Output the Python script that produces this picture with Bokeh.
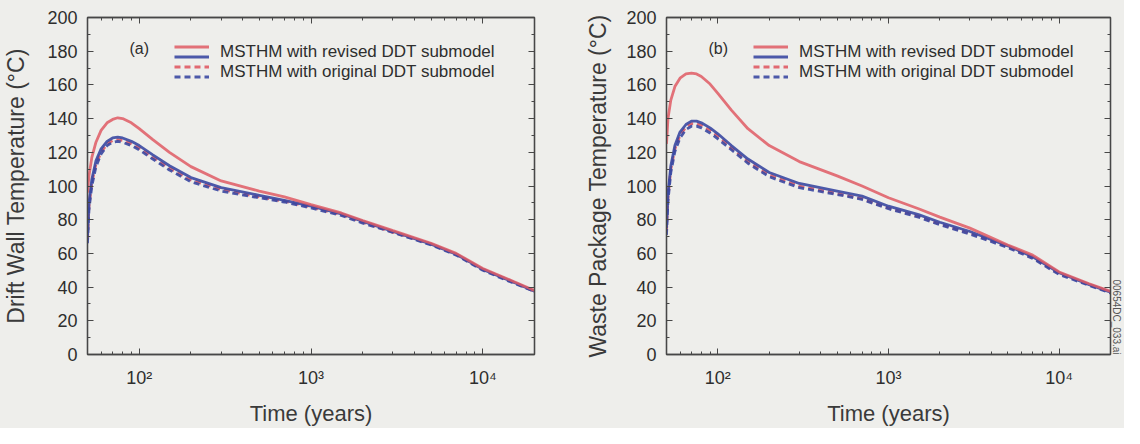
import math
from bokeh.plotting import figure
from bokeh.layouts import row
from bokeh.models import (Range1d, FixedTicker, Legend, LegendItem, Label,
                          LinearAxis, LogAxis, Title)
from bokeh.embed import file_html
from bokeh.resources import INLINE

# ---------------- data ----------------
years = [50, 51, 53, 56, 60, 65, 70, 75, 80, 90, 100, 120, 150, 200, 300,
         500, 700, 1000, 1500, 2000, 3000, 5000, 7000, 10000, 15000, 20000]

# (a) drift wall temperature (deg C)
wall_revised_red = [96, 106, 117, 126, 133, 137.5, 139.5, 140.5, 140, 137.5, 134, 127.5, 120, 111.5, 103,
                    97, 93.5, 89, 84, 79.5, 73.5, 66, 60, 51, 43.5, 38]
wall_revised_blue = [70, 90, 104, 115, 122, 126.5, 128.5, 129, 128.5, 126.5, 124, 118.5, 112, 105, 99,
                     94.5, 91.5, 88, 83.5, 79, 73, 65.5, 59.5, 50.5, 43, 37.5]
wall_original_red = [68, 88, 102, 113, 120, 125, 127, 127.5, 127, 125, 122.5, 117, 110.5, 103.5, 98,
                     93.5, 91, 87.5, 83, 78.5, 72.5, 65.5, 59.5, 50.5, 43, 37.5]
wall_original_blue = [66, 86, 100, 111.5, 119, 124, 126, 126.5, 126, 124, 121.5, 116, 109.5, 102.5, 97,
                      93, 90.5, 87, 82.5, 78, 72.5, 65, 59, 50, 42.5, 37.5]

# (b) waste package temperature (deg C)
wp_revised_red = [125, 140, 151, 159, 164, 166.5, 167, 166.5, 165, 160.5, 155, 145, 134, 124, 114.5,
                  106, 100, 93, 86.5, 81.5, 75, 65, 59, 49, 42, 37.5]
wp_revised_blue = [75, 95, 112, 124, 132, 136.5, 138.5, 138.5, 137.5, 134.5, 131, 124, 116, 108, 101.5,
                   97, 94, 88, 83, 78.5, 73, 64.5, 58, 48.5, 41.5, 37]
wp_original_red = [73, 93, 110, 122, 130, 135, 137, 137, 136, 133, 129.5, 122.5, 114.5, 106.5, 100,
                   95.5, 92.5, 87, 82, 77.5, 72, 64, 57.5, 48, 41.5, 37]
wp_original_blue = [71, 91, 108, 120.5, 128.5, 133.5, 135.5, 135.5, 134.5, 131.5, 128, 121.5, 113.5, 105.5, 99,
                    95, 92, 86.5, 81.5, 77, 71.5, 63.5, 57, 47.5, 41, 36.5]

x_major_ticks = [100, 1000, 10000]
x_tick_labels = ["10²", "10³", "10⁴"]
x_minor_ticks = [60, 70, 80, 90, 200, 300, 400, 500, 600, 700, 800, 900,
                 2000, 3000, 4000, 5000, 6000, 7000, 8000, 9000]
y_major_ticks = [0, 20, 40, 60, 80, 100, 120, 140, 160, 180, 200]
y_minor_ticks = [10, 30, 50, 70, 90, 110, 130, 150, 170, 190]

legend_labels = ["MSTHM with revised DDT submodel", "MSTHM with original DDT submodel"]
panel_tags = ["(a)", "(b)"]
y_titles = ["Drift Wall Temperature (°C)", "Waste Package Temperature (°C)"]
x_title = "Time (years)"
file_tag = "00654DC_033.ai"

# ---------------- style ----------------
BG = "#eeeeeb"
RED = "#df5a64"
BLUE = "#3a48a2"
INK = "#2e2e2e"
FRAME = "#474747"
FONT = "Liberation Sans"
FRAME_W = 450


def style_axis(ax, show_labels):
    ax.axis_line_color = FRAME
    ax.axis_line_width = 1.3
    ax.major_tick_line_color = FRAME
    ax.minor_tick_line_color = FRAME
    ax.major_tick_in = 6
    ax.major_tick_out = 0
    ax.minor_tick_in = 3
    ax.minor_tick_out = 0
    ax.major_label_text_font = FONT
    ax.major_label_text_color = INK
    ax.axis_label_text_font = FONT
    ax.axis_label_text_font_style = "normal"
    ax.axis_label_text_color = "#3a3a3a"
    if show_labels:
        ax.major_label_text_font_size = "18px"
    else:
        ax.major_label_text_font_size = "6px"
        ax.major_label_text_alpha = 0
        ax.major_label_standoff = 0


def make_panel(width, mb_left, y_title_standoff, series, y_title, tag, extra_tag=None):
    red, blue, ored, oblue = series
    p = figure(width=width, height=428, x_axis_type="log",
               x_range=Range1d(50, 20000), y_range=Range1d(0, 200),
               output_backend="svg", toolbar_location=None,
               min_border_left=mb_left, min_border_right=width - mb_left - FRAME_W,
               min_border_top=17, min_border_bottom=70,
               background_fill_color=BG, border_fill_color=BG,
               outline_line_color=FRAME, outline_line_width=1.3)
    p.grid.visible = False

    xa = p.xaxis[0]
    xa.ticker = FixedTicker(ticks=x_major_ticks, minor_ticks=x_minor_ticks)
    xa.major_label_overrides = {t: s for t, s in zip(x_major_ticks, x_tick_labels)}
    xa.axis_label = x_title
    style_axis(xa, True)
    xa.major_label_standoff = 13
    xa.axis_label_standoff = 10
    xa.axis_label_text_font_size = "22px"

    ya = p.yaxis[0]
    ya.ticker = FixedTicker(ticks=y_major_ticks, minor_ticks=y_minor_ticks)
    ya.axis_label = y_title
    style_axis(ya, True)
    ya.major_label_standoff = 10
    ya.axis_label_standoff = y_title_standoff
    ya.axis_label_text_font_size = "23px"

    top = LogAxis(ticker=FixedTicker(ticks=x_major_ticks, minor_ticks=x_minor_ticks))
    style_axis(top, False)
    p.add_layout(top, "above")
    right = LinearAxis(ticker=FixedTicker(ticks=y_major_ticks, minor_ticks=y_minor_ticks))
    style_axis(right, False)
    p.add_layout(right, "right")

    lw = 2.8
    r_ored = p.line(years, ored, line_color=RED, line_width=lw, line_dash="6 4", line_alpha=0.9)
    r_oblue = p.line(years, oblue, line_color=BLUE, line_width=lw, line_dash="6 4", line_alpha=0.9)
    r_blue = p.line(years, blue, line_color=BLUE, line_width=lw, line_alpha=0.9)
    r_red = p.line(years, red, line_color=RED, line_width=lw, line_alpha=0.85)
    # invisible stand-in so the text-only legend keeps the same glyph column
    dummy = p.line(x=[years[-1], years[-1]], y=[red[-1], red[-1]], line_alpha=0)

    def legend(items, loc):
        lg = Legend(items=items, location=loc, padding=0, spacing=0,
                    glyph_width=35, glyph_height=19, label_height=19,
                    label_standoff=11, label_text_font=FONT,
                    label_text_font_size="17px", label_text_color=INK,
                    background_fill_alpha=0, border_line_alpha=0)
        p.add_layout(lg)
        return lg

    legend([LegendItem(label=legend_labels[0], renderers=[dummy]),
            LegendItem(label=legend_labels[1], renderers=[dummy])], (87, 272.5))
    legend([LegendItem(label="\u2009", renderers=[r_red]),
            LegendItem(label="\u2009", renderers=[r_ored])], (87, 277.5))
    legend([LegendItem(label="\u2009", renderers=[r_blue]),
            LegendItem(label="\u2009", renderers=[r_oblue])], (87, 267.5))

    p.add_layout(Label(x=42, y=306, x_units="screen", y_units="screen", text=tag,
                       text_font=FONT, text_font_size="16px", text_color=INK,
                       text_baseline="middle"))
    if extra_tag:
        p.add_layout(Title(text=extra_tag, align="right", offset=0, standoff=1,
                           text_font=FONT, text_font_size="10px",
                           text_font_style="normal", text_color="#555555"), "right")
    return p


p1 = make_panel(582, 84, 15,
                (wall_revised_red, wall_revised_blue, wall_original_red, wall_original_blue),
                y_titles[0], panel_tags[0])
p2 = make_panel(542, 80, 12,
                (wp_revised_red, wp_revised_blue, wp_original_red, wp_original_blue),
                y_titles[1], panel_tags[1], file_tag)

layout = row(p1, p2, styles={"background-color": BG})
open("out.html", "w").write(file_html(layout, INLINE))
